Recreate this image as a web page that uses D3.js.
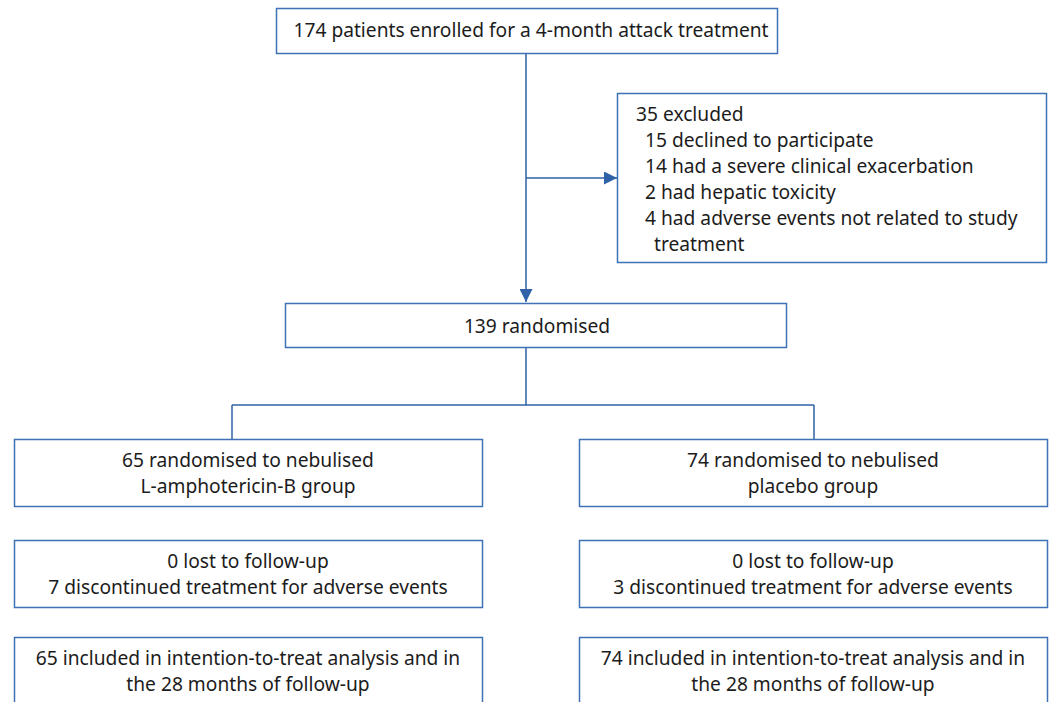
<!DOCTYPE html>
<html><head><meta charset="utf-8">
<script src="https://cdn.jsdelivr.net/npm/d3@7"></script>
<style>body{margin:0;background:#fff}svg{display:block}</style>
</head><body>
<svg id="c" width="1052" height="702"></svg>
<script>
const enrolled = ["174 patients enrolled for a 4-month attack treatment"];
const excluded = ["35 excluded", "15 declined to participate", "14 had a severe clinical exacerbation", "2 had hepatic toxicity", "4 had adverse events not related to study", "treatment"];
const excludedIndent = [0, 1, 1, 1, 1, 2];
const randomised = ["139 randomised"];
const armLabels = [
  ["65 randomised to nebulised", "L-amphotericin-B group"],
  ["74 randomised to nebulised", "placebo group"]
];
const followUp = [
  ["0 lost to follow-up", "7 discontinued treatment for adverse events"],
  ["0 lost to follow-up", "3 discontinued treatment for adverse events"]
];
const analysed = [
  ["65 included in intention-to-treat analysis and in", "the 28 months of follow-up"],
  ["74 included in intention-to-treat analysis and in", "the 28 months of follow-up"]
];

const svg = d3.select("#c");
const BOX = "#3f72b5", LINE = "#2f62a6", TXT = "#1c1c1c";
const FONT = "'Noto Sans', sans-serif", FS = 19.2;

svg.append("defs").append("marker").attr("id","arr")
  .attr("viewBox","0 0 10 10").attr("refX",10).attr("refY",5)
  .attr("markerWidth",13).attr("markerHeight",13).attr("markerUnits","userSpaceOnUse")
  .attr("orient","auto")
  .append("path").attr("d","M0,0L10,5L0,10Z").attr("fill",LINE);

function box(x,y,w,h){
  svg.append("rect").attr("x",x+0.5).attr("y",y+0.5).attr("width",w).attr("height",h)
    .attr("fill","#fff").attr("stroke",BOX).attr("stroke-width",1.5);
}
function lines(arr, cx, y0, dy, anchor, indents){
  svg.append("g").selectAll("text").data(arr).join("text")
    .attr("x",(d,i)=> cx + (indents ? indents[i]*9 : 0))
    .attr("y",(d,i)=> y0 + i*dy)
    .attr("text-anchor",anchor)
    .attr("dominant-baseline","central")
    .attr("font-family",FONT).attr("font-size",FS).attr("fill",TXT)
    .text(d=>d);
}
function line(pts, marker){
  const p = svg.append("path").attr("d", d3.line()(pts)).attr("fill","none")
    .attr("stroke",LINE).attr("stroke-width",1.5);
  if(marker) p.attr("marker-end","url(#arr)");
}

// connectors
line([[526,53],[526,302]], true);
line([[526,178],[617,178]], true);
line([[526,347],[526,405]]);
line([[232,405],[814,405]]);
line([[232,405],[232,439]]);
line([[814,405],[814,439]]);

// boxes
box(276,8,501,45);
lines(enrolled, 531, 29, 26, "middle");

box(617,93,429,169);
lines(excluded, 636, 113, 26, "start", excludedIndent);

box(285,303,501,44);
lines(randomised, 537, 325, 26, "middle");

const colX = [14, 579], colW = 468;
const rows = [[armLabels,439,67],[followUp,540,67],[analysed,637,75]];
rows.forEach(([data,y,h])=>{
  data.forEach((txt,i)=>{
    box(colX[i], y, colW, h);
    lines(txt, colX[i]+colW/2, y+20, 26, "middle");
  });
});
</script>
</body></html>
